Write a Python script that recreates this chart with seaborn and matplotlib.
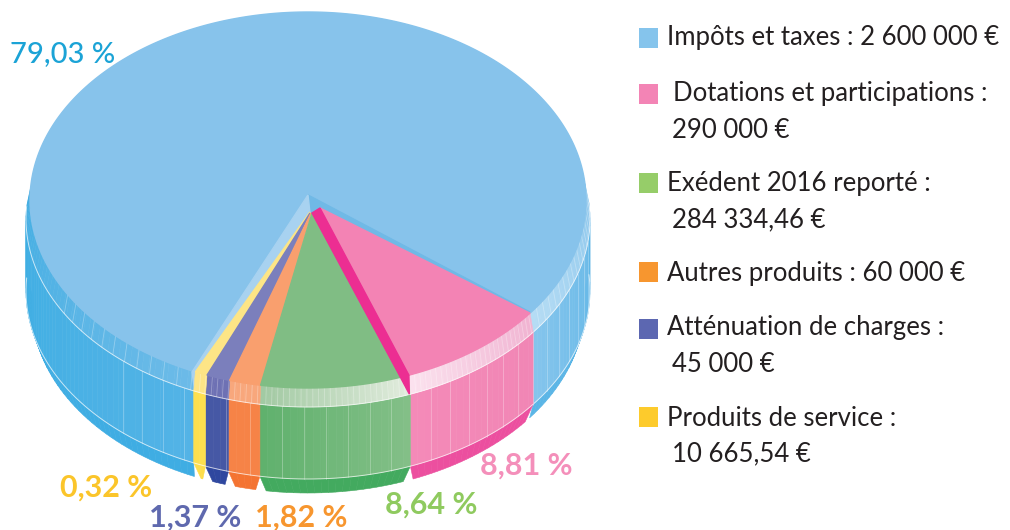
import numpy as np
import pandas as pd
import seaborn as sns
import matplotlib.pyplot as plt
from matplotlib.colors import to_rgb

sns.set_theme(style="white")
plt.rcParams['font.family'] = ['Lato', 'DejaVu Sans']

# data
categories = ["Dotations", "Exedent", "Autres", "Attenuation", "Produits", "Impots"]
percents = [8.81, 8.64, 1.82, 1.37, 0.32, 79.03]
legend_lines = [
    ["Impôts et taxes : 2 600 000 €"],
    ["Dotations et participations :", "290 000 €"],
    ["Exédent 2016 reporté :", "284 334,46 €"],
    ["Autres produits : 60 000 €"],
    ["Atténuation de charges :", "45 000 €"],
    ["Produits de service :", "10 665,54 €"],
]
legend_colors = ["#85c4ec", "#f384b5", "#96cd69", "#f7962f", "#5c67b1", "#fdcb2c"]

# pie geometry, in pixels
CX, CY = 308, 200
LEVELS = {"top": (278, 188, 0), "band": (282, 188, 19), "side": (282, 188, 91), "bottom": (276, 186, 107)}
START = -37.0
MIN_SPAN = 2.6


def pt(t, level):
    a, b, dy = LEVELS[level]
    r = np.radians(t)
    return CX + a * np.cos(r), CY - b * np.sin(r) + dy


def mix(c1, c2, f):
    c1, c2 = np.array(to_rgb(c1)), np.array(to_rgb(c2))
    return tuple(c1 + (c2 - c1) * f)


def ring(ax, t1, t2, lev1, lev2, c1, c2, z, inset=0.0):
    n = max(int(abs(t2 - t1) / 1.5), 2)
    ts = np.linspace(t1, t2, n + 1)
    # bottom edge can be pulled in so the slice tapers
    sgn = np.sign(t2 - t1)
    ts2 = np.linspace(t1 + sgn * inset, t2 - sgn * inset, n + 1)
    for i in range(n):
        p = [pt(ts[i], lev1), pt(ts[i + 1], lev1), pt(ts2[i + 1], lev2), pt(ts2[i], lev2)]
        col = mix(c1, c2, i / n)
        ax.fill(*zip(*p), color=col, lw=0.4, zorder=z)


def curve(ax, t1, t2, level, z, alpha=0.7, lw=0.7):
    ts = np.linspace(t1, t2, 80)
    xs, ys = zip(*[pt(t, level) for t in ts])
    ax.plot(xs, ys, color="white", alpha=alpha, lw=lw, zorder=z)


def ticks(ax, t1, t2, lev1, lev2, step, z, alpha=0.3):
    lo, hi = min(t1, t2), max(t1, t2)
    for t in np.arange(lo + step, hi, step):
        p1, p2 = pt(t, lev1), pt(t, lev2)
        ax.plot([p1[0], p2[0]], [p1[1], p2[1]], color="white", alpha=alpha, lw=0.6, zorder=z)


def wedge_body(ax, t1, t2, cols, z, band_step=1.2, side_step=4.5, inset=1.0):
    ring(ax, t1, t2, "side", "bottom", cols["bottom"], cols["bottom"], z, inset=inset)
    ring(ax, t1, t2, "band", "side", cols["side1"], cols["side2"], z + 0.1)
    ring(ax, t1, t2, "top", "band", cols["band1"], cols["band2"], z + 0.2)
    if side_step:
        ticks(ax, t1, t2, "band", "side", side_step, z + 0.3)
    if band_step:
        ticks(ax, t1, t2, "top", "band", band_step, z + 0.3)
    curve(ax, t1, t2, "side", z + 0.3)
    curve(ax, t1, t2, "band", z + 0.3)


# angle of each slice, small slices get a minimum span to stay visible
spans = [max(p * 3.6, MIN_SPAN) for p in percents[:-1]]
edges = START - np.cumsum([0] + spans)
blue_end = edges[-1] + 360

fig, ax = plt.subplots(figsize=(10.1, 5.3), dpi=100)
fig.subplots_adjust(0, 0, 1, 1)
ax.set_xlim(0, 1010)
ax.set_ylim(530, 0)
ax.axis("off")

# big blue slice, goes the long way round
blue_cols = {"bottom": "#3fade3", "side1": "#3eaee3", "side2": "#53b3e6", "band1": "#43aee3", "band2": "#6dbbe8"}
wedge_body(ax, 176, blue_end, blue_cols, 1, band_step=None, side_step=None, inset=0.4)
ticks(ax, 207, blue_end, "top", "band", 3.2, 1.4)
ticks(ax, 224, blue_end, "band", "side", 5, 1.4)
right_cols = {"bottom": "#5ab5e6", "side1": "#84c4ec", "side2": "#5fb6e7", "band1": "#b5dcf4", "band2": "#88c5ec"}
wedge_body(ax, START, 5, right_cols, 1, band_step=2.2, side_step=5, inset=0.4)
ts = np.linspace(START, blue_end, 300)
blue_top = [(308, 195)] + [pt(t, "top") for t in ts]
ax.fill(*zip(*blue_top), color="#87c3eb", zorder=2)
ax.fill([308, 530, 525, 320, 312, 310], [195, 312, 314, 208, 213, 213], color="#70b9e6", zorder=2.1)
ax.fill([308, 192, 195, 201, 310], [195, 372, 393, 376, 213], color="#a8d2f0", zorder=2.1)

# small slices, front to back order
slice_cols = [
    {"top": "#f383b4", "bottom": "#ec4f9f", "side1": "#f186b5", "side2": "#f48ab8", "band1": "#f1b4d2", "band2": "#fbe3ef"},
    {"top": "#80bd84", "bottom": "#43aa5f", "side1": "#83bf87", "side2": "#5eb06c", "band1": "#e0ebdc", "band2": "#9fc8a0"},
    {"top": "#f99f6e", "bottom": "#f47432", "side1": "#f68347", "side2": "#f68347", "band1": "#f8a77c", "band2": "#f8a77c"},
    {"top": "#7b7fbc", "bottom": "#2f479f", "side1": "#4658a5", "side2": "#4658a5", "band1": "#6e71b4", "band2": "#6e71b4"},
    {"top": "#fde586", "bottom": "#fddd4b", "side1": "#fddf4e", "side2": "#fddf4e", "band1": "#fde586", "band2": "#fde586"},
]
apexes = [(320, 208), (312, 213), (311, 213), (310, 213), (310, 212)]
for i in range(len(spans))[::-1]:
    t1, t2 = edges[i], edges[i + 1]
    cols = slice_cols[i]
    wedge_body(ax, t1, t2, cols, 3 + i * 0.01, inset=1.1)
    arc = [pt(t, "top") for t in np.linspace(t1, t2, 40)]
    ax.fill(*zip(*([apexes[i]] + arc)), color=cols["top"], zorder=4)

# dark inner wall of the pink slice
p1 = pt(edges[1], "top")
p2 = pt(edges[1], "band")
ax.fill([312, 320, p1[0], p2[0] - 1, p1[0] - 8], [213, 208, p1[1], p2[1], p1[1] + 3], color="#ec2e92", zorder=4.5)

# percent labels
label_pos = [(526, 466), (431, 505), (301, 518), (195, 518), (106, 488), (63, 54)]
label_cols = ["#f48fba", "#8fca5f", "#f7962f", "#5f69ae", "#fbc52a", "#1ba3d6"]
for p, (x, y), c in zip(percents, label_pos, label_cols):
    txt = f"{p:.2f}".replace(".", ",") + " %"
    ax.text(x, y, txt, color=c, fontsize=22 if p < 50 else 21, fontweight="bold" if p < 50 else "medium",
            ha="center", va="center", zorder=6)

# legend
swatches = pd.DataFrame({
    "x": [648.5] * 6,
    "y": [38, 94, 183, 272, 329, 417],
    "name": [lines[0] for lines in legend_lines],
})
sns.scatterplot(data=swatches, x="x", y="y", hue="name", palette=legend_colors, marker="s", s=190,
                linewidth=0, legend=False, ax=ax, zorder=6)
ax.set_xlim(0, 1010)
ax.set_ylim(530, 0)
line_pos = [[(667, 37)], [(673, 94), (672, 130)], [(667, 183), (672, 220)], [(667, 273)],
            [(667, 328), (672, 365)], [(667, 418), (672, 454)]]
for lines, places in zip(legend_lines, line_pos):
    for line, (x, y) in zip(lines, places):
        ax.text(x, y, line, color="#231f20", fontsize=18.5, ha="left", va="center", zorder=6)

fig.savefig("out.png", dpi=100)
